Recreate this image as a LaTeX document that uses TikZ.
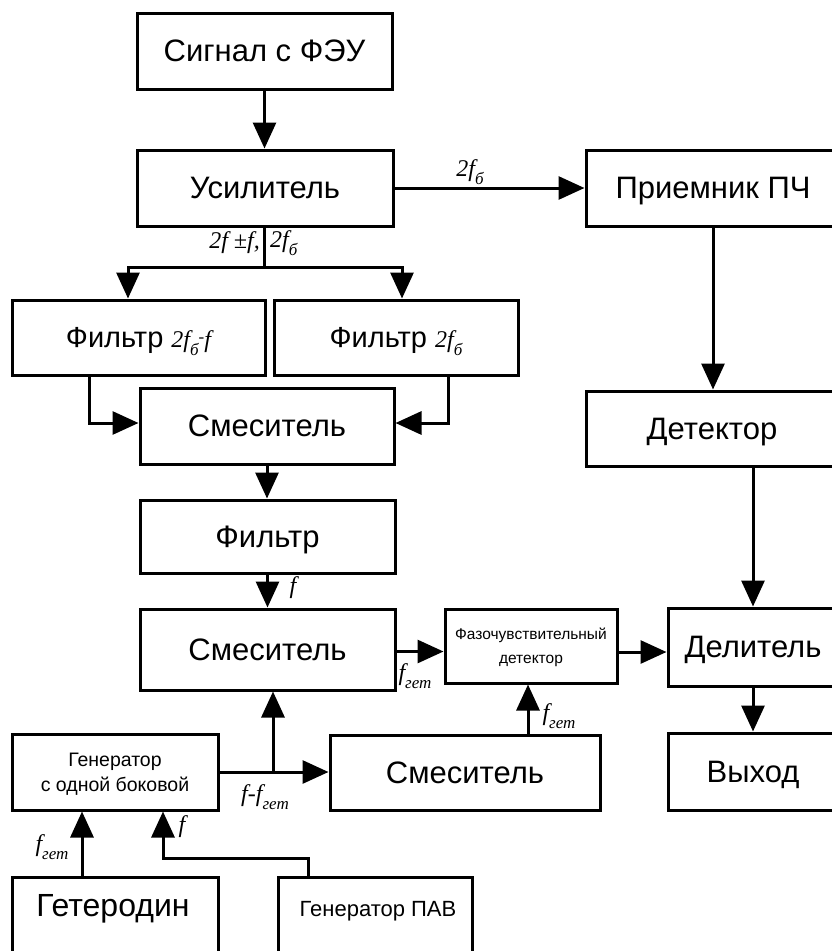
\documentclass[tikz,border=0pt]{standalone}
\usepackage{fontspec}
\setmainfont{Liberation Sans}
\newfontfamily\serifit{Liberation Serif}
\usetikzlibrary{arrows.meta}

% small lowered index and raised dash used in frequency labels
\newcommand\idx[1]{\raisebox{-0.32em}{\fontsize{17}{17}\selectfont #1}}
\newcommand\updash{\raisebox{0.2em}{\fontsize{17}{17}\selectfont -}}

\tikzset{
  blk/.style={draw=black, line width=3pt, inner sep=0pt, align=center, text depth=0pt,
              font=\fontsize{31}{37}\selectfont},
  conn/.style={line width=3pt},
  arr/.style={line width=3pt, -{Triangle[length=26pt,width=23pt]}},
  flab/.style={font=\serifit\itshape\fontsize{24}{28}\selectfont, inner sep=0pt},
}

\begin{document}
\begin{tikzpicture}[x=1pt,y=-1pt]
\useasboundingbox (0,0) rectangle (832,951);
\clip (0,0) rectangle (832,951);

% blocks
\node[blk, minimum width=255pt, minimum height=76pt] (sig)  at (264.5,51)   {Сигнал с ФЭУ};
\node[blk, minimum width=256pt, minimum height=76pt] (amp)  at (265,188)    {Усилитель};
\node[blk, minimum width=254pt, minimum height=76pt] (rcv)  at (713,188)    {Приемник ПЧ};
\node[blk, minimum width=253pt, minimum height=75pt, font=\fontsize{29}{34}\selectfont] (flt1) at (138.5,337.5)
  {Фильтр {\serifit\itshape\fontsize{24}{28}\selectfont 2f\idx{б}\updash f}};
\node[blk, minimum width=244pt, minimum height=75pt, font=\fontsize{29}{34}\selectfont] (flt2) at (396,337.5)
  {Фильтр {\serifit\itshape\fontsize{24}{28}\selectfont 2f\idx{б}}};
\node[blk, minimum width=254pt, minimum height=76pt] (mix1) at (267,426)    {Смеситель};
\node[blk, minimum width=252pt, minimum height=75pt] (det)  at (712,428.5)  {Детектор};
\node[blk, minimum width=255pt, minimum height=73pt] (flt)  at (267.5,536.5){Фильтр};
\node[blk, minimum width=255pt, minimum height=81pt] (mix2) at (267.5,649.5){Смеситель};
\node[blk, minimum width=172pt, minimum height=74pt, font=\fontsize{15.5}{24}\selectfont] (phd) at (531,646)
  {Фазочувствительный\\детектор};
\node[blk, minimum width=170pt, minimum height=78pt] (div)  at (753,647)    {Делитель};
\node[blk, minimum width=170pt, minimum height=77pt] (out)  at (753,771.5)  {Выход};
\node[blk, minimum width=206pt, minimum height=76pt, font=\fontsize{19.5}{25}\selectfont] (ssb) at (115,772)
  {Генератор\\с одной боковой};
\node[blk, minimum width=270pt, minimum height=75pt] (mix3) at (465,772.5)  {Смеситель};
\node[blk, minimum width=206pt, minimum height=83pt] (lo)   at (115,918.5)  {};
\node[blk, minimum width=194pt, minimum height=83pt] (saw)  at (375,918.5)  {};
\node[font=\fontsize{32}{38}\selectfont] (lotxt)  at (113,909) {Гетеродин};
\node[font=\fontsize{22}{26}\selectfont] (sawtxt) at (378,911) {Генератор ПАВ};

% junction points
\coordinate (split) at (264,267);
\coordinate (tap)   at (273,772);
\coordinate (bend)  at (308,858);

% connectors
\draw[arr] (sig.south) -- (sig.south |- amp.north);
\draw[arr] (amp.east) -- (rcv.west);
\draw[conn] (amp.south -| split) -- (split);
\draw[arr] (split) -| ([xshift=-10.5pt]flt1.north);
\draw[arr] (split) -| ([xshift=6pt]flt2.north);
\draw[arr] ([xshift=-49.5pt]flt1.south) |- ([yshift=3pt]mix1.west);
\draw[arr] ([xshift=52pt]flt2.south) |- ([yshift=3pt]mix1.east);
\draw[arr] (mix1.south) -- (mix1.south |- flt.north);
\draw[arr] (flt.south) -- (flt.south |- mix2.north);
\draw[arr] ([yshift=-2pt]mix2.east) -- ([yshift=-2pt]mix2.east -| phd.west);
\draw[arr] ([yshift=-6pt]phd.east) -- ([yshift=-6pt]phd.east -| div.west);
\draw[arr] (rcv.south) -- (rcv.south |- det.north);
\draw[arr] (det.south -| div.north) -- (div.north);
\draw[arr] (div.south) -- (div.south |- out.north);
\draw[arr] (ssb.east) -- (ssb.east -| mix3.west);
\draw[arr] (tap) -- (tap |- mix2.south);
\draw[arr] ([xshift=-3pt]mix3.north -| phd.south) -- ([xshift=-3pt]phd.south);
\draw[arr] ([xshift=-33pt]lo.north) -- ([xshift=-33pt]lo.north |- ssb.south);
\draw[arr] (saw.north -| bend) -- (bend) -| ([xshift=48pt]ssb.south);

% frequency labels
\node[flab] (l1) at (470,172) {2f\idx{б}};
\node[flab, anchor=east] (l2) at (260,243) {2f ±f,};
\node[flab, anchor=west] (l3) at (270,243) {2f\idx{б}};
\node[flab] (l4) at (293,588) {f};
\node[flab] (l5) at (415,676) {f\idx{гет}};
\node[flab] (l6) at (559,716) {f\idx{гет}};
\node[flab] (l7) at (265,797) {f-f\idx{гет}};
\node[flab] (l8) at (52,847)  {f\idx{гет}};
\node[flab] (l9) at (182,827) {f};
\end{tikzpicture}
\end{document}
